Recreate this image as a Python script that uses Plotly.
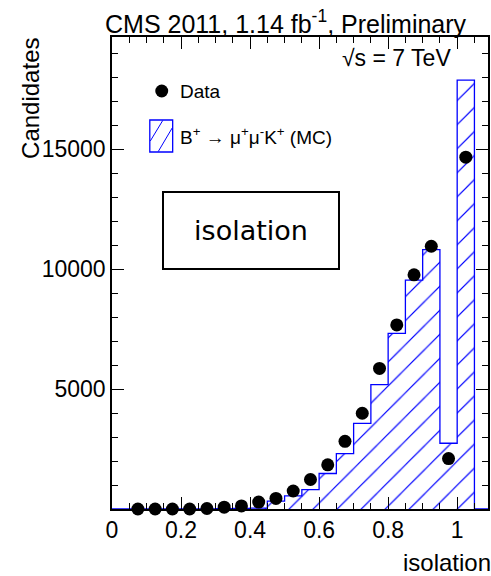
import plotly.graph_objects as go

# ---------------- data ----------------
bin_edges = [0.05, 0.10, 0.15, 0.20, 0.25, 0.30, 0.35, 0.40, 0.45, 0.50,
             0.55, 0.60, 0.65, 0.70, 0.75, 0.80, 0.85, 0.90, 0.95, 1.00, 1.05]
bin_centers = [0.075, 0.125, 0.175, 0.225, 0.275, 0.325, 0.375, 0.425, 0.475, 0.525,
               0.575, 0.625, 0.675, 0.725, 0.775, 0.825, 0.875, 0.925, 0.975, 1.025]
data_counts = [0, 0, 0, 0, 20, 75, 130, 290, 440, 750,
               1230, 1840, 2820, 3990, 5860, 7670, 9760, 10950, 2100, 14660]
mc_counts = [0, 0, 0, 0, 5, 10, 20, 40, 325, 550,
             810, 1480, 2310, 3570, 5180, 7320, 9540, 10810, 2740, 17870]
x_tick_vals = [0, 0.2, 0.4, 0.6, 0.8, 1.0]
y_tick_vals = [5000, 10000, 15000]

BLUE = "#0000ff"
FONT = "Liberation Sans, Arial, Helvetica, sans-serif"

W, H = 491, 576
PL, PR, PT, PB = 112, 490, 37, 509


def fx(px):
    return (px - PL) / (PR - PL)


def fy(py):
    return (PB - py) / (PB - PT)


fig = go.Figure()

# hatched MC histogram (fill only)
fig.add_trace(go.Bar(
    x=bin_centers, y=mc_counts, width=0.05,
    marker=dict(color=BLUE, line=dict(width=0),
                pattern=dict(shape="/", fgcolor=BLUE, bgcolor="rgba(0,0,0,0)",
                             size=17, solidity=0.07, fillmode="replace")),
    showlegend=False, hoverinfo="skip",
))

# step outline built from the histogram arrays
step_x = [0.0] + bin_edges[:-1] + [bin_edges[-1], bin_edges[-1], 1.0893]
step_y = [0] + mc_counts + [mc_counts[-1], 0, 0]
fig.add_trace(go.Scatter(
    x=step_x, y=step_y, mode="lines", line=dict(color=BLUE, width=1.3, shape="hv"),
    showlegend=False, hoverinfo="skip", cliponaxis=False,
))

# data points
fig.add_trace(go.Scatter(
    x=bin_centers, y=data_counts, mode="markers",
    marker=dict(color="black", size=13, line=dict(width=0)),
    showlegend=False, cliponaxis=False,
))

axis_common = dict(
    showline=True, linecolor="black", linewidth=1.5, mirror="allticks",
    ticks="inside", tickcolor="black", tickwidth=1.2, showgrid=False, zeroline=False,
    tickfont=dict(family=FONT, size=23, color="black"),
)

fig.update_xaxes(
    range=[0, 1.0893], tickmode="array", tickvals=x_tick_vals,
    ticktext=["0", "0.2", "0.4", "0.6", "0.8", "1"], ticklen=12,
    minor=dict(tickmode="linear", tick0=0, dtick=0.05, ticklen=6, ticks="inside",
               tickcolor="black", tickwidth=1.2, showgrid=False),
    **axis_common,
)
fig.update_yaxes(
    range=[0, 19670], tickmode="array", tickvals=y_tick_vals,
    ticktext=[str(v) for v in y_tick_vals], ticklen=12,
    minor=dict(tickmode="linear", tick0=0, dtick=1000, ticklen=6, ticks="inside",
               tickcolor="black", tickwidth=1.2, showgrid=False),
    **axis_common,
)

annotations = [
    dict(text="CMS 2011, 1.14 fb<sup>-1</sup>, Preliminary", x=fx(287), y=fy(22),
         xanchor="center", yanchor="middle", font=dict(size=25)),
    dict(text="√s = 7 TeV", x=fx(398), y=fy(58), xanchor="center", yanchor="middle",
         font=dict(size=23)),
    dict(text="Data", x=fx(178), y=fy(91), xanchor="left", yanchor="middle",
         font=dict(size=19)),
    dict(text="B<sup>+</sup> → μ<sup>+</sup>μ<sup>-</sup>K<sup>+</sup> (MC)",
         x=fx(178), y=fy(136), xanchor="left", yanchor="middle", font=dict(size=19)),
    dict(text="isolation", x=fx(252), y=fy(230.5), xanchor="center", yanchor="middle",
         width=174, height=75, borderpad=0, borderwidth=2, bordercolor="black",
         bgcolor="white", font=dict(size=27, family="DejaVu Sans")),
    dict(text="Candidates", x=fx(30), y=fy(36), xanchor="center", yanchor="top",
         textangle=-90, font=dict(size=24)),
    dict(text="isolation", x=fx(403), y=fy(562), xanchor="left", yanchor="middle",
         font=dict(size=24)),
]
for a in annotations:
    a.update(xref="paper", yref="paper", showarrow=False)
    a.setdefault("font", {})
    a["font"].setdefault("family", FONT)
    a["font"].setdefault("color", "black")

shapes = [
    # legend marker for data
    dict(type="circle", x0=fx(155.5), x1=fx(168.5), y0=fy(97.5), y1=fy(84.5),
         fillcolor="black", line=dict(width=0)),
    # legend hatched box
    dict(type="rect", x0=fx(150), x1=fx(173), y0=fy(152), y1=fy(120),
         fillcolor="white", line=dict(color=BLUE, width=1.3)),
    dict(type="line", x0=fx(150.5), y0=fy(141), x1=fx(163), y1=fy(120.5),
         line=dict(color=BLUE, width=1)),
    dict(type="line", x0=fx(158.5), y0=fy(151.5), x1=fx(172.5), y1=fy(128),
         line=dict(color=BLUE, width=1)),
]
for s in shapes:
    s.update(xref="paper", yref="paper")

fig.update_layout(
    width=W, height=H, autosize=False,
    margin=dict(l=PL, r=W - PR, t=PT, b=H - PB, pad=0),
    paper_bgcolor="white", plot_bgcolor="white",
    bargap=0, showlegend=False,
    annotations=annotations, shapes=shapes,
    font=dict(family=FONT, color="black"),
)

fig.write_html(
    "out.html",
    config={"displayModeBar": False},
    post_script="document.body.style.margin='0';document.body.style.overflow='hidden';",
)
